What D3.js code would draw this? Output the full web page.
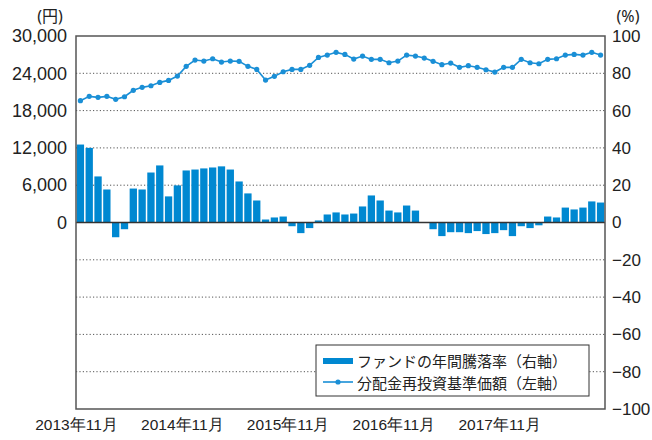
<!DOCTYPE html>
<html>
<head>
<meta charset="utf-8">
<script src="https://cdn.jsdelivr.net/npm/d3@7"></script>
<style>
  body { margin: 0; background: #fff; }
  svg { font-family: "Noto Sans", "Noto Sans CJK JP", sans-serif; }
</style>
</head>
<body>
<div id="chart"></div>
<script>
// monthly categories, Nov 2013 .. Oct 2018
const months = d3.timeMonth.range(new Date(2013, 10, 1), new Date(2018, 10, 1));

// ファンドの年間騰落率 (%), right axis
const fundReturn = [
  41.8, 40.0, 24.7, 17.7, -7.9, -3.6, 18.2, 17.7, 26.8, 30.6,
  14.0, 19.9, 27.9, 28.4, 29.0, 29.5, 30.1, 28.4, 22.0, 15.6,
  11.8, 1.6, 2.7, 3.2, -2.0, -5.7, -3.0, 1.1, 4.3, 5.4,
  4.3, 4.8, 8.6, 14.5, 11.8, 6.4, 5.4, 9.1, 6.4, -0.2,
  -3.6, -7.3, -5.2, -5.2, -5.7, -4.6, -6.2, -5.7, -4.1, -7.3,
  -2.0, -3.0, -1.5, 3.2, 2.7, 8.0, 7.0, 8.0, 11.3, 10.7
];

// 分配金再投資基準価額 (円), left axis
const navReinvested = [
  19590, 20290, 20130, 20290, 19810, 20230, 21260, 21740, 22000, 22540,
  22860, 23560, 25120, 26130, 25970, 26340, 25810, 25970, 25920, 25120,
  24630, 22910, 23510, 24250, 24630, 24630, 25280, 26560, 26930, 27370,
  27040, 26290, 26770, 26240, 26240, 25700, 25970, 26930, 26770, 26450,
  25920, 25380, 25650, 24960, 25220, 24960, 24570, 24200, 24960, 24960,
  26240, 25700, 25540, 26240, 26340, 26930, 27040, 26930, 27370, 26930
];

const leftTicks = [0, 6000, 12000, 18000, 24000, 30000];
const rightTicks = [-100, -80, -60, -40, -20, 0, 20, 40, 60, 80, 100];
const xTickIndex = [0, 12, 24, 36, 48];
const xTickLabels = ['2013年11月', '2014年11月', '2015年11月', '2016年11月', '2017年11月'];

const width = 652, height = 440;
const margin = { top: 36, right: 47, bottom: 31, left: 76 };
const innerW = width - margin.left - margin.right;
const innerH = height - margin.top - margin.bottom;

const barColor = '#0088d1';
const lineColor = '#1a8fd6';

const svg = d3.select('#chart')
  .append('svg')
  .attr('width', width)
  .attr('height', height);

const g = svg.append('g')
  .attr('transform', `translate(${margin.left},${margin.top})`);

// scales
const x = d3.scaleBand()
  .domain(d3.range(months.length))
  .range([0, innerW])
  .paddingInner(0.17)
  .paddingOuter(0.085);

const xTick = d3.scaleLinear()
  .domain([0, months.length])
  .range([0, innerW]);

const yRight = d3.scaleLinear().domain([-100, 100]).range([innerH, 0]);
const yLeft = d3.scaleLinear().domain([-30000, 30000]).range([innerH, 0]);

// dotted grid
g.append('g')
  .selectAll('line')
  .data(rightTicks.filter(d => d !== 0 && Math.abs(d) !== 100))
  .join('line')
  .attr('x1', 0)
  .attr('x2', innerW)
  .attr('y1', d => yRight(d))
  .attr('y2', d => yRight(d))
  .attr('stroke', '#555')
  .attr('stroke-width', 1)
  .attr('stroke-dasharray', '1.2,2.2');

// bars
g.append('g')
  .selectAll('rect')
  .data(fundReturn)
  .join('rect')
  .attr('x', (d, i) => x(i))
  .attr('width', x.bandwidth())
  .attr('y', d => yRight(Math.max(0, d)))
  .attr('height', d => Math.abs(yRight(d) - yRight(0)))
  .attr('fill', barColor);

// zero line
g.append('line')
  .attr('x1', 0)
  .attr('x2', innerW)
  .attr('y1', yRight(0))
  .attr('y2', yRight(0))
  .attr('stroke', '#333')
  .attr('stroke-width', 1.5);

// NAV line
const line = d3.line()
  .x((d, i) => x(i) + x.bandwidth() / 2)
  .y(d => yLeft(d));

g.append('path')
  .datum(navReinvested)
  .attr('fill', 'none')
  .attr('stroke', lineColor)
  .attr('stroke-width', 1.6)
  .attr('d', line);

g.append('g')
  .selectAll('circle')
  .data(navReinvested)
  .join('circle')
  .attr('cx', (d, i) => x(i) + x.bandwidth() / 2)
  .attr('cy', d => yLeft(d))
  .attr('r', 2.6)
  .attr('fill', lineColor);

// frame
g.append('rect')
  .attr('width', innerW)
  .attr('height', innerH)
  .attr('fill', 'none')
  .attr('stroke', '#555')
  .attr('stroke-width', 1.5);

// axes
const leftAxis = g.append('g')
  .attr('transform', 'translate(-9,0)')
  .call(d3.axisLeft(yLeft).tickValues(leftTicks).tickSize(0).tickFormat(d3.format(',')));
leftAxis.select('.domain').remove();
leftAxis.selectAll('text')
  .attr('x', 0)
  .attr('fill', '#222')
  .style('font-size', '18px');

const rightAxis = g.append('g')
  .attr('transform', `translate(${innerW + 7},0)`)
  .call(d3.axisRight(yRight).tickValues(rightTicks).tickSize(0));
rightAxis.select('.domain').remove();
rightAxis.selectAll('text')
  .attr('x', 0)
  .attr('fill', '#222')
  .style('font-size', '17px');

const bottomAxis = g.append('g')
  .attr('transform', `translate(0,${innerH + 7})`)
  .call(d3.axisBottom(xTick).tickValues(xTickIndex).tickSize(0)
    .tickFormat((d, i) => xTickLabels[i]));
bottomAxis.select('.domain').remove();
bottomAxis.selectAll('text')
  .attr('fill', '#222')
  .style('font-size', '15.5px');

// unit labels
svg.append('text')
  .attr('x', 50).attr('y', 22)
  .attr('text-anchor', 'middle')
  .attr('fill', '#222')
  .style('font-size', '16px')
  .text('(円)');

svg.append('text')
  .attr('x', 628).attr('y', 22)
  .attr('text-anchor', 'middle')
  .attr('fill', '#222')
  .style('font-size', '16px')
  .text('(%)');

// legend
const legend = svg.append('g').attr('transform', 'translate(316,345)');
legend.append('rect')
  .attr('width', 273)
  .attr('height', 51)
  .attr('fill', '#fff')
  .attr('stroke', '#333')
  .attr('stroke-width', 1);

legend.append('rect')
  .attr('x', 7).attr('y', 13)
  .attr('width', 30).attr('height', 6)
  .attr('fill', barColor);
legend.append('text')
  .attr('x', 41).attr('y', 22)
  .attr('fill', '#222')
  .style('font-size', '15px')
  .text('ファンドの年間騰落率（右軸）');

legend.append('line')
  .attr('x1', 7).attr('x2', 37)
  .attr('y1', 37).attr('y2', 37)
  .attr('stroke', lineColor)
  .attr('stroke-width', 1.6);
legend.append('circle')
  .attr('cx', 22).attr('cy', 37)
  .attr('r', 2.6)
  .attr('fill', lineColor);
legend.append('text')
  .attr('x', 41).attr('y', 44)
  .attr('fill', '#222')
  .style('font-size', '15px')
  .text('分配金再投資基準価額（左軸）');
</script>
</body>
</html>
